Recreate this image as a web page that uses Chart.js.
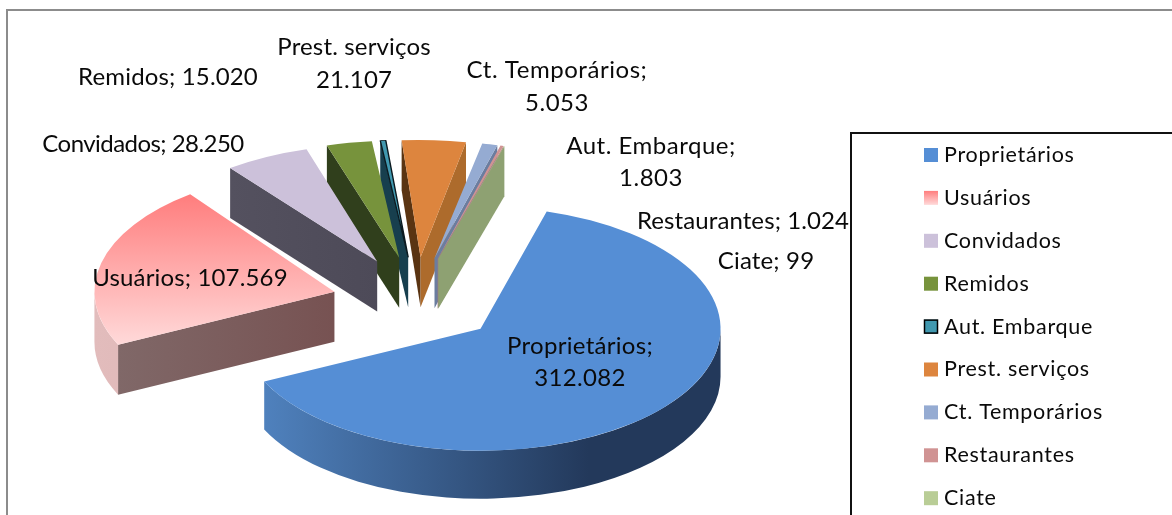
<!DOCTYPE html>
<html lang="pt-BR">
<head>
<meta charset="utf-8">
<style>html,body{margin:0;padding:0;background:#fff;overflow:hidden}canvas{display:block}</style>
<script src="https://cdn.jsdelivr.net/npm/chart.js@4/dist/chart.umd.min.js"></script>
</head>
<body>
<canvas id="c" width="1172" height="515"></canvas>
<script>
const categories = ['Proprietários','Usuários','Convidados','Remidos','Aut. Embarque','Prest. serviços','Ct. Temporários','Restaurantes','Ciate'];
const values = [312082,107569,28250,15020,1803,21107,5053,1024,99];
const topColors = ['#558ed5','#ff8f8f','#ccc1da','#77933c','#4198af','#dd853e','#95abd2','#d09393','#b9cd96'];
const rimColors = [['#4f81bd','#23395b'],['#e2bcbc','#cfa3a3'],['#8a8496','#6f6a7c'],['#4f6328','#3d4d20'],['#215968','#174552'],['#a8642c','#8a5020'],['#6f80a0','#6f80a0'],['#a07070','#a07070'],['#8fa274','#8fa274']];
const startWallColors = [['#3f6797','#3f6797'],['#806868','#775252'],['#54515f','#4d4a58'],['#303f1c','#303f1c'],['#173f4e','#173f4e'],['#5a3412','#5a3412'],['#7486a8','#7486a8'],['#a07878','#a07878'],['#8fa274','#8fa274']];
const endWallColors = [['#3f6797','#3f6797'],['#806868','#775252'],['#54515f','#4d4a58'],['#4f6328','#4f6328'],['#173f4e','#173f4e'],['#ad6b2c','#ad6b2c'],['#6b7d9f','#6b7d9f'],['#a07878','#a07878'],['#8ea172','#8ea172']];
const labelLines = [
  ['Proprietários;','312.082'],['Usuários; 107.569'],['Convidados; 28.250'],['Remidos; 15.020'],
  ['Aut. Embarque;','1.803'],['Prest. serviços','21.107'],['Ct. Temporários;','5.053'],['Restaurantes; 1.024'],['Ciate; 99']
];
const labelPos = [[580,346,32],[190,278,0],[143,144,0],[168,77,0],[651,146,32],[354,47,33],[557,70,33],[743,221,0],[766,261,0]];
const labelTrack = [0.3,0.15,-0.55,0.15,0.5,0.15,0.55,0.1,0.15];

const view = {cx:415, cy:300, rx:240, ry:122, explode:0.352};
const sliceYScale = [1,1,.96,.96,.96,.96,.96,.96,.96];
const sliceShiftX = [1,1.5,0,0,0,0,0,0,0];
const sliceShiftY = [1,2,0,0,0,0,0,0,0];
const sliceDepth = [48,50,50,50,50,50,50,50,50];
const sliceLean = [0,0,.03,.045,.05,.02,0,0,0];
const FONT = 'Lato, Carlito, "Open Sans", sans-serif';

function hGrad(ctx, a, stops, x0, x1){
  const g = ctx.createLinearGradient(a.x + x0*a.outerRadius, 0, a.x + x1*a.outerRadius, 0);
  g.addColorStop(0, stops[0]); g.addColorStop(1, stops[1]);
  return g;
}

const pie3d = {
  id:'pie3d',
  beforeDatasetsDraw(chart){
    const ctx = chart.ctx, meta = chart.getDatasetMeta(0);
    const order = meta.data.map((a,i)=>i).sort((p,q)=>{
      const m = a => (a.startAngle + a.endAngle)/2;
      return Math.sin(m(meta.data[p])) - Math.sin(m(meta.data[q]));
    });
    for (const i of order){
      const a = meta.data[i], R = a.outerRadius;
      const mid = (a.startAngle + a.endAngle)/2;
      const d = view.explode*R;
      const ys = view.ry/R;
      const dz = sliceDepth[i]/(ys*sliceYScale[i]);
      const k = sliceLean[i]*view.ry/view.rx;
      const dzx = -k*dz*sliceYScale[i];
      const apexX = Math.cos(mid)*d, apexY = Math.sin(mid)*d;
      ctx.save();
      ctx.translate(view.cx + sliceShiftX[i], view.cy + sliceShiftY[i]);
      ctx.scale(view.rx/R, ys);
      // keep each slice's apex in place, flatten only around it
      ctx.translate(apexX, apexY);
      ctx.transform(1,0,k,1,0,0);
      ctx.scale(1, sliceYScale[i]);
      ctx.translate(-a.x, -a.y);
      const edge = (ang, cols) => {
        const ex = a.x + Math.cos(ang)*R, ey = a.y + Math.sin(ang)*R;
        const g = ctx.createLinearGradient(a.x, 0, ex, 0);
        g.addColorStop(0, cols[1]); g.addColorStop(1, cols[0]);
        ctx.fillStyle = g;
        ctx.beginPath();
        ctx.moveTo(a.x,a.y); ctx.lineTo(ex,ey); ctx.lineTo(ex+dzx,ey+dz); ctx.lineTo(a.x+dzx,a.y+dz);
        ctx.closePath(); ctx.fill();
      };
      if (Math.cos(a.startAngle) < 0) edge(a.startAngle, startWallColors[i]);
      if (Math.cos(a.endAngle) > 0) edge(a.endAngle, endWallColors[i]);
      // outer rim: only the near half of the circle can be seen
      const TAU = Math.PI*2;
      for (const n of [-1,0,1]){
        const s = Math.max(a.startAngle, n*TAU), e = Math.min(a.endAngle, n*TAU + Math.PI);
        if (e > s){
          ctx.fillStyle = i===0 ? hGrad(ctx,a,rimColors[i],-0.9,0.45) : hGrad(ctx,a,rimColors[i],-1,1);
          ctx.beginPath();
          ctx.arc(a.x,a.y,R,s,e);
          ctx.arc(a.x,a.y+dz,R,e,s,true);
          ctx.closePath(); ctx.fill();
        }
      }
      // top face, drawn by the library's arc element
      const saved = a.options.backgroundColor;
      if (i===1){
        const g = ctx.createLinearGradient(0,a.y-0.8*R,0,a.y+0.44*R);
        g.addColorStop(0,'#ff7d7d'); g.addColorStop(1,'#ffdada');
        a.options.backgroundColor = g;
      }
      a.draw(ctx);
      a.options.backgroundColor = saved;
      ctx.restore();
    }
    return false;
  },
  afterDraw(chart){
    const ctx = chart.ctx;
    ctx.save();
    // outer frame
    ctx.strokeStyle = '#8c8c8c'; ctx.lineWidth = 2;
    ctx.beginPath(); ctx.moveTo(7,520); ctx.lineTo(7,10); ctx.lineTo(1175,10); ctx.stroke();
    // data labels
    ctx.fillStyle = '#0a0a0a'; ctx.textAlign='center'; ctx.textBaseline='middle';
    ctx.font = '24px '+FONT;
    labelLines.forEach((lines,i)=>{
      const [x,y,lh] = labelPos[i];
      ctx.letterSpacing = labelTrack[i]+'px';
      lines.forEach((t,n)=>ctx.fillText(t,x,y+n*lh));
    });
    // legend box
    ctx.fillStyle='#fff'; ctx.fillRect(851,133,321,382);
    ctx.strokeStyle='#111'; ctx.lineWidth=2;
    ctx.beginPath(); ctx.moveTo(851,520); ctx.lineTo(851,133); ctx.lineTo(1175,133); ctx.stroke();
    ctx.textAlign='left'; ctx.font='21.5px '+FONT;
    ctx.letterSpacing = '0.7px';
    categories.forEach((c,i)=>{
      const y = 148 + i*42.9;
      if (i===1){
        const g = ctx.createLinearGradient(0,y,0,y+14);
        g.addColorStop(0,'#ff7d7d'); g.addColorStop(1,'#ffdada');
        ctx.fillStyle=g;
      } else ctx.fillStyle = topColors[i];
      ctx.fillRect(924,y,14,14);
      if (i===4){ ctx.strokeStyle='#000'; ctx.lineWidth=1.5; ctx.strokeRect(924.5,y+0.5,13,13); }
      ctx.fillStyle='#0a0a0a';
      ctx.fillText(c,944,y+7);
    });
    ctx.restore();
  }
};

new Chart(document.getElementById('c'),{
  type:'pie',
  data:{labels:categories,datasets:[{data:values,backgroundColor:topColors,
    borderWidth:values.map((v,i)=>i===4?1.5:0),borderColor:values.map((v,i)=>i===4?'#0b1a20':'rgba(0,0,0,0)')}]},
  options:{responsive:false,animation:false,rotation:16,
    plugins:{legend:{display:false},tooltip:{enabled:false},title:{display:false}},
    layout:{padding:0}},
  plugins:[pie3d]
});
</script>
</body>
</html>
